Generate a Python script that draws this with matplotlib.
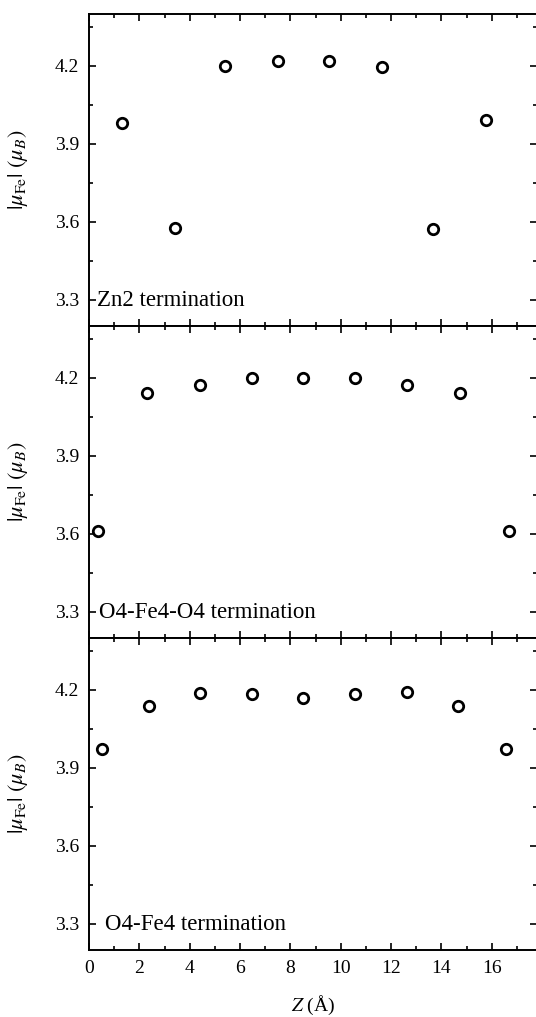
import numpy as np
import matplotlib
matplotlib.use("Agg")
import matplotlib.pyplot as plt
from matplotlib.ticker import MultipleLocator

plt.rcParams['font.family'] = ['Liberation Serif', 'DejaVu Serif']
plt.rcParams['mathtext.fontset'] = 'stix'

# Zn2 termination
z_zn2 = [1.32, 3.42, 5.40, 7.50, 9.55, 11.63, 13.65, 15.76]
mu_zn2 = [3.982, 3.576, 4.200, 4.220, 4.219, 4.197, 3.574, 3.992]

# O4-Fe4-O4 termination
z_o4fe4o4 = [0.37, 2.29, 4.41, 6.46, 8.51, 10.57, 12.62, 14.74, 16.69]
mu_o4fe4o4 = [3.612, 4.144, 4.175, 4.200, 4.200, 4.200, 4.172, 4.143, 3.612]

# O4-Fe4 termination
z_o4fe4 = [0.50, 2.40, 4.41, 6.46, 8.51, 10.57, 12.62, 14.66, 16.58]
mu_o4fe4 = [3.973, 4.139, 4.190, 4.184, 4.171, 4.184, 4.192, 4.138, 3.973]

panels = [
    (z_zn2, mu_zn2, 'Zn2 termination', 0.32),
    (z_o4fe4o4, mu_o4fe4o4, 'O4-Fe4-O4 termination', 0.4),
    (z_o4fe4, mu_o4fe4, 'O4-Fe4 termination', 0.64),
]

W, H = 536, 1017
fig = plt.figure(figsize=(W / 100, H / 100), dpi=100)

left_px, right_px = 89, 537
tops_px = [14, 326, 638]
bots_px = [326, 638, 950]

for i, (z, mu, name, tx) in enumerate(panels):
    ax = fig.add_axes([left_px / W, 1 - bots_px[i] / H,
                       (right_px - left_px) / W, (bots_px[i] - tops_px[i]) / H])
    ax.plot(z, mu, 'o', mfc='white', mec='black', ms=7.5, mew=2.0, ls='none')
    ax.set_xlim(0, 17.8)
    ax.set_ylim(3.2, 4.4)
    ax.xaxis.set_major_locator(MultipleLocator(2))
    ax.xaxis.set_minor_locator(MultipleLocator(1))
    ax.yaxis.set_major_locator(MultipleLocator(0.3))
    ax.yaxis.set_minor_locator(MultipleLocator(0.15))
    ax.tick_params(which='both', direction='in', top=True, right=True,
                   width=1.2, labelsize=14, pad=7)
    ax.tick_params(which='major', length=5)
    ax.tick_params(which='minor', length=3)
    for s in ax.spines.values():
        s.set_linewidth(1.4)
    ax.set_yticks([3.3, 3.6, 3.9, 4.2])
    ax.set_yticklabels(['3.3', '3.6', '3.9', '4.2'])
    ax.set_ylabel(r'$|\mu_{\rm Fe}|\ (\mu_B)$', fontsize=16, labelpad=18)
    ax.text(tx, 3.3, name, fontsize=16.5, va='center', ha='left')
    if i < 2:
        ax.tick_params(labelbottom=False)
    else:
        ax.set_xticks(np.arange(0, 17, 2))
        ax.set_xlabel(r'$Z$ (Å)', fontsize=14, labelpad=12)

fig.savefig('out.png', dpi=100)
